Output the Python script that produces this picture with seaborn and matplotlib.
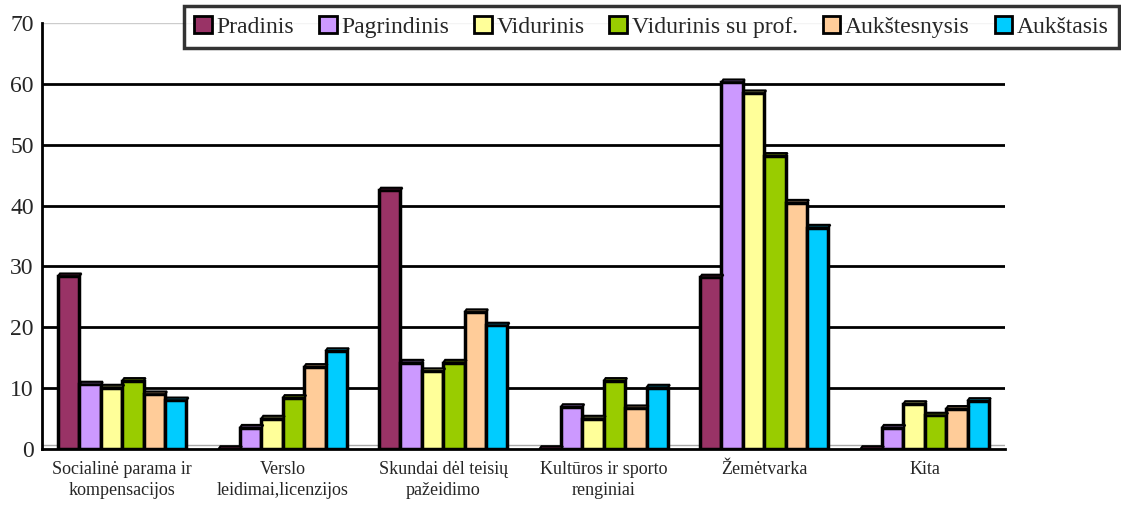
import matplotlib
matplotlib.use("Agg")
import matplotlib.pyplot as plt
from matplotlib.patches import Polygon, Patch
import matplotlib.colors as mcolors
import seaborn as sns
import pandas as pd

# Data
categories = ["Socialinė parama ir\nkompensacijos", "Verslo\nleidimai,licenzijos",
              "Skundai dėl teisių\npažeidimo", "Kultūros ir sporto\nrenginiai",
              "Žemėtvarka", "Kita"]
levels = ["Pradinis", "Pagrindinis", "Vidurinis", "Vidurinis su prof.", "Aukštesnysis", "Aukštasis"]
pradinis = [28.4, 0, 42.5, 0, 28.2, 0]
pagrindinis = [10.6, 3.5, 14.2, 6.9, 60.3, 3.5]
vidurinis = [10.1, 5.0, 12.8, 5.0, 58.5, 7.4]
vid_prof = [11.2, 8.4, 14.2, 11.2, 48.2, 5.5]
aukstesnysis = [9.0, 13.5, 22.5, 6.7, 40.5, 6.6]
aukstasis = [8.0, 16.1, 20.3, 10.1, 36.4, 7.9]
colors = ["#993366", "#CC99FF", "#FFFF99", "#99CC00", "#FFCC99", "#00CCFF"]
yticks = [0, 10, 20, 30, 40, 50, 60, 70]

series = [pradinis, pagrindinis, vidurinis, vid_prof, aukstesnysis, aukstasis]
rows = []
for lvl, vals in zip(levels, series):
    for cat, v in zip(categories, vals):
        rows.append({"cat": cat, "lvl": lvl, "val": v})
df = pd.DataFrame(rows)

sns.set_theme(style="white")
plt.rcParams['font.family'] = ['Liberation Serif', 'DejaVu Serif']

fig = plt.figure(figsize=(11.21, 5.05), dpi=100)
ax = fig.add_axes([0.0375, 0.111, 0.859, 0.843])

for y in yticks[1:-1]:
    ax.axhline(y, color="black", lw=2, zorder=0)
ax.axhline(70, color="#cccccc", lw=1, zorder=0)
ax.axhline(0.6, color="#aaaaaa", lw=1, zorder=0)

sns.barplot(data=df, x="cat", y="val", hue="lvl", hue_order=levels, order=categories,
            palette=colors, edgecolor="black", linewidth=2.5, legend=False, ax=ax,
            saturation=1, zorder=2)

# 3D top lips
for p in list(ax.patches):
    x0 = p.get_x()
    w = p.get_width()
    h = p.get_height()
    dark = tuple(c * 0.45 for c in mcolors.to_rgb(p.get_facecolor()))
    dx, dy = 0.012, 0.45
    poly = Polygon([(x0, h), (x0 + dx, h + dy), (x0 + w + dx, h + dy), (x0 + w, h)],
                   closed=True, facecolor=dark, edgecolor="black", lw=1.5, zorder=3)
    ax.add_patch(poly)

ax.set_xlim(-0.5, len(categories) - 0.5)
ax.set_ylim(0, 70)
ax.set_yticks(yticks)
ax.set_yticklabels([str(t) for t in yticks], fontsize=17)
ax.set_xticks(range(len(categories)))
ax.set_xticklabels(categories, fontsize=13, linespacing=1.3)
ax.set_xticks([i - 0.5 for i in range(len(categories) + 1)], minor=True)
ax.tick_params(axis="x", which="major", length=0, pad=9)
ax.tick_params(axis="x", which="minor", length=7, width=2, color="black", direction="out")
ax.tick_params(axis="y", length=6, width=2, color="black", direction="out", pad=0)
ax.set_xlabel("")
ax.set_ylabel("")
for s in ["top", "right"]:
    ax.spines[s].set_visible(False)
for s in ["left", "bottom"]:
    ax.spines[s].set_color("black")
    ax.spines[s].set_linewidth(2)

handles = [Patch(facecolor=c, edgecolor="black", lw=2) for c in colors]
leg = fig.legend(handles, levels, ncol=6, loc="upper right", bbox_to_anchor=(0.998, 0.988),
                 frameon=True, fancybox=False, fontsize=17, handlelength=0.75, handleheight=0.75,
                 handletextpad=0.2, columnspacing=1.05, borderpad=0.42, borderaxespad=0)
leg.get_frame().set_edgecolor("black")
leg.get_frame().set_linewidth(2.5)

fig.savefig("out.png", dpi=100)
